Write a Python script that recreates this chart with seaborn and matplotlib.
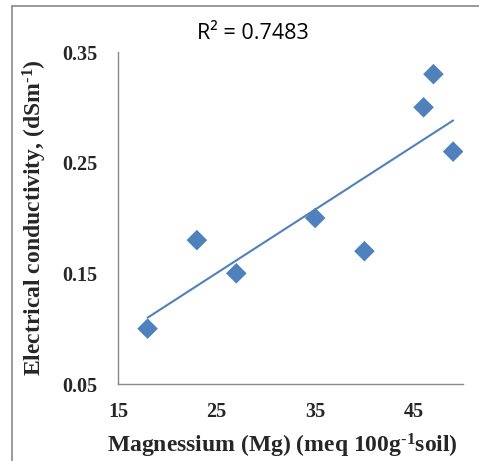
import matplotlib
matplotlib.use("Agg")
import matplotlib.pyplot as plt
import seaborn as sns
import pandas as pd
import numpy as np
from matplotlib.lines import Line2D

magnesium = [18, 23, 27, 35, 40, 46, 47, 49]
conductivity = [0.10, 0.18, 0.15, 0.20, 0.17, 0.30, 0.33, 0.26]
x_ticks = [15, 25, 35, 45]
y_ticks = [0.05, 0.15, 0.25, 0.35]
r2_label = "R² = 0.7483"

df = pd.DataFrame({"Mg": magnesium, "EC": conductivity})

sns.set_theme(style="white")
plt.rcParams["font.family"] = ["Liberation Serif", "DejaVu Serif"]
plt.rcParams["mathtext.fontset"] = "custom"
plt.rcParams["mathtext.rm"] = "Liberation Serif:bold"
plt.rcParams["mathtext.bf"] = "Liberation Serif:bold"
plt.rcParams["mathtext.default"] = "bf"

blue = "#4F81BD"
gray = "#898989"

fig = plt.figure(figsize=(4.79, 4.61), dpi=100)
ax = fig.add_axes([118 / 479, 1 - 384 / 461, (463 - 118) / 479, (384 - 52) / 461])

sns.regplot(data=df, x="Mg", y="EC", ax=ax, ci=None, truncate=True,
            scatter=False, line_kws={"color": blue, "lw": 1.5})
sns.scatterplot(data=df, x="Mg", y="EC", ax=ax, marker="D", s=110,
                color=blue, edgecolor="none", linewidth=0, zorder=3)

ax.set_xlim(15, 50)
ax.set_ylim(0.05, 0.35)
ax.set_xticks(x_ticks)
ax.set_yticks(y_ticks)
ax.set_xticklabels([str(v) for v in x_ticks])
ax.set_yticklabels([f"{v:.2f}" for v in y_ticks])

for side in ["top", "right"]:
    ax.spines[side].set_visible(False)
for side in ["left", "bottom"]:
    ax.spines[side].set_color(gray)
    ax.spines[side].set_linewidth(1.0)

ax.tick_params(axis="both", which="major", direction="out", length=5, width=1,
               color=gray, labelsize=14.5, pad=8)
ax.tick_params(axis="y", pad=10)
for lbl in ax.get_xticklabels() + ax.get_yticklabels():
    lbl.set_fontweight("bold")

ax.set_xlabel(r"Magnessium (Mg) (meq 100g$^{\text{-}1}$soil)", fontsize=17,
              fontweight="bold")
ax.xaxis.label.set_va("baseline")
ax.xaxis.set_label_coords(0.478, -(452 - 384) / 332)
ax.set_ylabel(r"Electrical conductivity, (dSm$^{\text{-}1}$)", fontsize=17,
              fontweight="bold")
ax.yaxis.set_label_coords(-(118 - 49) / 345, 0.5)

fig.text(253 / 479, 1 - 33 / 461, r2_label, ha="center", va="center",
         fontsize=15.5, family=["Open Sans", "DejaVu Sans"], color="black")

# outer chart frame (left and top edges visible)
fig.add_artist(Line2D([12 / 479, 12 / 479], [0, 1 - 6 / 461],
                      transform=fig.transFigure, color=gray, lw=1.2))
fig.add_artist(Line2D([12 / 479, 1], [1 - 6 / 461, 1 - 6 / 461],
                      transform=fig.transFigure, color=gray, lw=1.2))

fig.savefig("out.png", dpi=100, facecolor="white")
